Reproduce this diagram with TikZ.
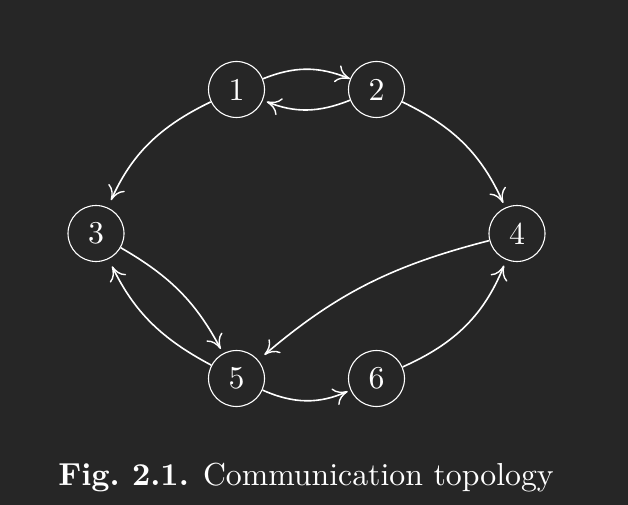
\documentclass[tikz,border=0pt]{standalone}
\usepackage{graphicx}
\usetikzlibrary{arrows.meta}
\definecolor{bg}{HTML}{262626}
\newcommand{\bigtxt}[1]{\scalebox{3.18}{\fontsize{10}{12}\selectfont #1}}
\begin{document}
\begin{tikzpicture}[x=1pt,y=-1pt,
  vnode/.style={circle,draw=white,line width=1.1pt,minimum size=56pt,inner sep=0pt,text=white},
  edge/.style={draw=white,line width=1.6pt,-{Computer Modern Rightarrow[length=14pt,width=18pt,line width=1.4pt]}}]
\fill[bg] (0,0) rectangle (628,505);
\useasboundingbox (0,0) rectangle (628,505);
\node[vnode] (n1) at (236.5,89.5) {\bigtxt{1}};
\node[vnode] (n2) at (376.5,89.5) {\bigtxt{2}};
\node[vnode] (n3) at (96,233.5) {\bigtxt{3}};
\node[vnode] (n4) at (517,233.5) {\bigtxt{4}};
\node[vnode] (n5) at (236.5,378.5) {\bigtxt{5}};
\node[vnode] (n6) at (376.5,378.5) {\bigtxt{6}};
\draw[edge] (n1) to[bend left=22] (n2);
\draw[edge,shorten >=4pt] (n2) to[bend left=22] (n1);
\draw[edge,shorten >=8pt] (n1) to[bend right=20] (n3);
\draw[edge,shorten >=5pt] (n2) to[bend left=20] (n4);
\draw[edge,shorten >=5pt] (n3) to[bend left=16] (n5);
\draw[edge,shorten >=8pt] (n5) to[bend left=18] (n3);
\draw[edge,shorten >=8pt] (n4) to[bend right=13] (n5);
\draw[edge,shorten >=3pt] (n5) to[bend right=24] (n6);
\draw[edge,shorten >=6pt] (n6) to[bend right=22] (n4);
\node[anchor=base,text=white,inner sep=0pt] (cap) at (306,485) {\bigtxt{\textbf{Fig.~2.1.} Communication topology}};
\end{tikzpicture}
\end{document}
